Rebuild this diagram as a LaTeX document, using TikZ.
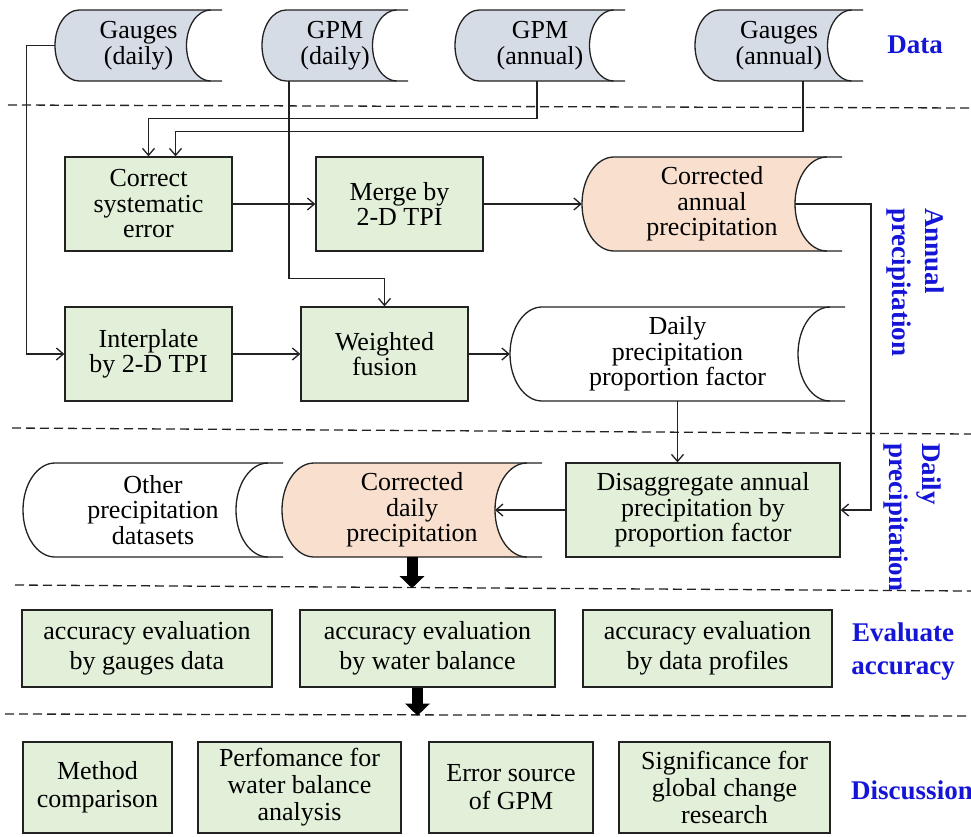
\documentclass[tikz,border=0pt]{standalone}
\usepackage{fontspec}
\setmainfont{Liberation Serif}
\usetikzlibrary{arrows.meta,calc}
\definecolor{dgray}{HTML}{D6DCE6}
\definecolor{lgreen}{HTML}{E2EFD9}
\definecolor{peach}{HTML}{F9DFCD}
\definecolor{lblue}{HTML}{1515D8}
\definecolor{ink}{HTML}{222222}
\tikzset{
  edge/.style={draw=ink, line width=1.3pt},
  conn/.style={draw=ink, line width=1.3pt, -{Straight Barb[length=7pt,width=12pt,line width=1.3pt]}},
  bigarrow/.style={draw=black, line width=11pt, -{Triangle[length=12pt,width=24pt]}},
  sepline/.style={draw=ink, line width=1.3pt, dash pattern=on 9pt off 5pt},
  dtext/.style={draw=none, inner sep=0pt, align=center, font=\fontsize{26}{25.5}\selectfont},
  box/.style={draw=ink, line width=1.3pt, fill=lgreen, inner sep=0pt, align=center, font=\fontsize{26}{25.5}\selectfont},
  lab/.style={inner sep=0pt, text=lblue, font=\fontsize{27}{33}\selectfont\bfseries}
}
\newcommand{\dshape}[7]{%
  \pgfmathsetmacro{\dsh}{#5-#4}%
  \pgfmathsetmacro{\dsrx}{0.34*\dsh}%
  \pgfmathsetmacro{\dsry}{0.5*\dsh}%
  \pgfmathsetmacro{\dsc}{#3-0.16*\dsh}%
  \pgfmathsetmacro{\dsl}{#2+\dsrx}%
  \pgfmathsetmacro{\dsm}{#4+\dsry}%
  \pgfmathsetmacro{\dsw}{#3-#2}%
  \pgfmathsetmacro{\dscx}{(#2+#3)/2}%
  \pgfmathsetmacro{\dsk}{\dsc-\dsrx}%
  \fill[#6] (\dsl,#4) -- (\dsc,#4) arc[start angle=90,end angle=270,x radius=\dsrx pt,y radius=\dsry pt] -- (\dsl,#5) arc[start angle=270,end angle=90,x radius=\dsrx pt,y radius=\dsry pt] -- cycle;
  \draw[edge] (#3,#4) -- (\dsl,#4) arc[start angle=90,end angle=270,x radius=\dsrx pt,y radius=\dsry pt] -- (#3,#5);
  \draw[edge] (\dsc,#4) arc[start angle=90,end angle=270,x radius=\dsrx pt,y radius=\dsry pt];
  \node[dtext, minimum width=\dsw pt, minimum height=\dsh pt] (#1) at (\dscx,\dsm) {#7};
  \coordinate (#1-c) at (\dsk,\dsm);
}
\newcommand{\rbox}[7][]{%
  \pgfmathsetmacro{\rbw}{#4-#3}%
  \pgfmathsetmacro{\rbh}{#6-#5}%
  \pgfmathsetmacro{\rbx}{(#3+#4)/2}%
  \pgfmathsetmacro{\rby}{(#5+#6)/2}%
  \node[box, minimum width=\rbw pt, minimum height=\rbh pt, #1] (#2) at (\rbx,\rby) {#7};
}
\begin{document}
\begin{tikzpicture}[x=1pt,y=-1pt]
\path[fill=white, use as bounding box] (0,0) rectangle (971,836);

% data row
\dshape{gd}{55}{222}{10}{81}{dgray}{Gauges\\(daily)}
\dshape{gpmd}{262}{408}{10}{81}{dgray}{GPM\\(daily)}
\dshape{gpma}{455}{625}{10}{81}{dgray}{GPM\\(annual)}
\dshape{ga}{695}{863}{10}{81}{dgray}{Gauges\\(annual)}

% annual section
\rbox{corr}{65}{232}{157}{251}{Correct\\systematic\\error}
\rbox{merge}{316}{483}{157}{251}{Merge by\\2-D TPI}
\dshape{cap}{582}{842}{157}{251}{peach}{Corrected\\annual\\precipitation}
\rbox{interp}{65}{232}{307}{401}{Interplate\\by 2-D TPI}
\rbox{fusion}{301}{468}{307}{401}{Weighted\\fusion}
\dshape{dpp}{510}{845}{307}{401}{white}{Daily\\precipitation\\proportion factor}

% daily section
\dshape{opd}{23}{283}{463}{557}{white}{Other\\precipitation\\datasets}
\dshape{cdp}{282}{542}{463}{557}{peach}{Corrected\\daily\\precipitation}
\rbox{dis}{566}{840}{463}{557}{Disaggregate annual\\precipitation by\\proportion factor}

% evaluate
\rbox[font=\fontsize{26}{30}\selectfont]{ev1}{22}{272}{610}{687}{accuracy evaluation\\by gauges data}
\rbox[font=\fontsize{26}{30}\selectfont]{ev2}{300}{555}{610}{687}{accuracy evaluation\\by water balance}
\rbox[font=\fontsize{26}{30}\selectfont]{ev3}{583}{832}{610}{687}{accuracy evaluation\\by data profiles}

% discussion
\rbox[font=\fontsize{26}{28}\selectfont]{d1}{23}{172}{742}{833}{Method\\comparison}
\rbox[font=\fontsize{26}{27}\selectfont]{d2}{198}{401}{742}{833}{Perfomance for\\water balance\\analysis}
\rbox[font=\fontsize{26}{28}\selectfont]{d3}{429}{593}{742}{833}{Error source\\of GPM}
\rbox[font=\fontsize{26}{27}\selectfont]{d4}{619}{830}{742}{833}{Significance for\\global change\\research}

% separators
\draw[sepline] (8,105) -- (971,108);
\draw[sepline] (12,428) -- (971,434);
\draw[sepline] (15,585) -- (971,591);
\draw[sepline] (5,714) -- (971,716);

% connectors
\draw[conn] (gd.west) -- ++(-28,0) |- (interp.west);
\draw[conn] ([xshift=-46pt]gpmd.south) -- ++(0,197) -| (fusion.north);
\draw[conn] ([xshift=-3pt]gpma.south) -- ++(0,37) -| (corr.north);
\draw[conn] ([xshift=24pt]ga.south) -- ++(0,50) -| ([xshift=27pt]corr.north);
\draw[conn] (corr.east) -- (merge.west);
\draw[conn] (merge.east) -- (cap.west);
\draw[conn] (cap-c) -- ++(76,0) |- (dis.east);
\draw[conn] (interp.east) -- (fusion.west);
\draw[conn] (fusion.east) -- (dpp.west);
\draw[conn] (dpp.south) -- (dpp.south |- dis.north);
\draw[conn] (dis.west) -- (cdp-c);
\draw[bigarrow] (cdp.south) -- ++(0,31);
\draw[bigarrow] ([xshift=-10pt]ev2.south) -- ++(0,28);

% section labels
\node[lab] (ldata) at (915,45) {Data};
\node[lab, rotate=-90, align=left] (lann) at (915,282) {Annual\\precipitation};
\node[lab, rotate=-90, align=left] (lday) at (912,517) {Daily\\precipitation};
\node[lab, align=center] (leva) at (903,652) {Evaluate\\accuracy};
\node[lab] (ldis) at (912,790) {Discussion};
\end{tikzpicture}
\end{document}
